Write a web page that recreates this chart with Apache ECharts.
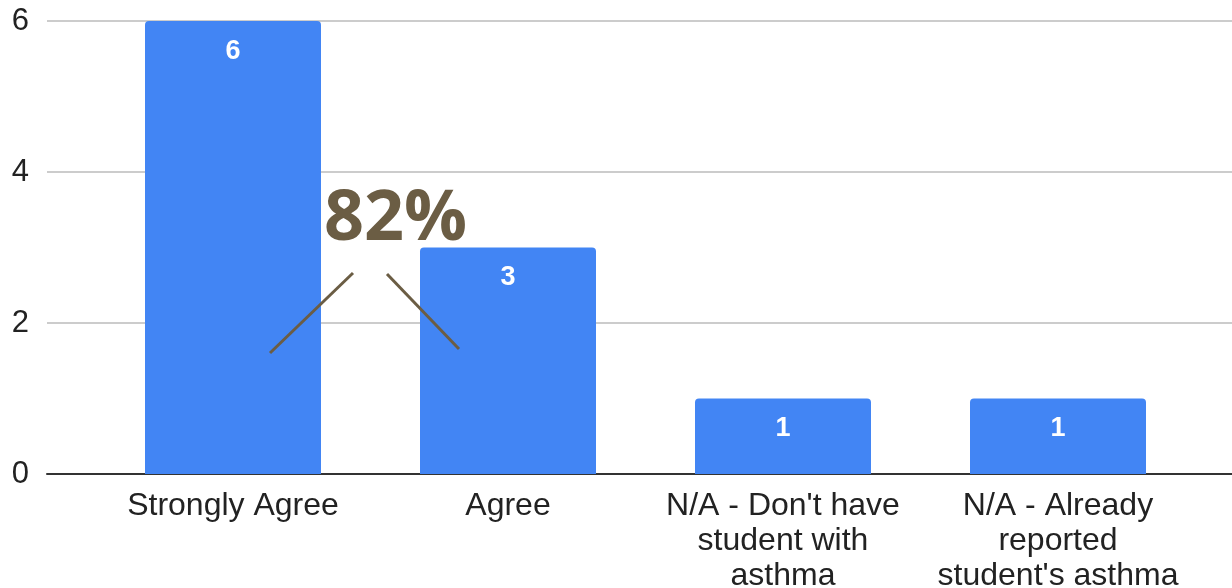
<!DOCTYPE html>
<html><head><meta charset="utf-8">
<style>html,body{margin:0;padding:0;background:#fff}#c{width:1232px;height:588px}</style>
<script src="https://cdn.jsdelivr.net/npm/echarts@6/dist/echarts.min.js"></script>
</head><body><div id="c"></div>
<script>
const categories = ["Strongly Agree", "Agree", "N/A - Don't have\nstudent with\nasthma", "N/A - Already\nreported\nstudent's asthma"];
const counts = [6, 3, 1, 1];
const yTicks = [0, 2, 4, 6];
const annotationText = "82%";

const chart = echarts.init(document.getElementById('c'), null, {renderer: 'canvas'});
const brown = '#6b5d44';
chart.setOption({
  animation: false,
  grid: [
    {left: 95.5, right: 36.5, top: 21, bottom: 114, outerBoundsMode: 'none', containLabel: false},
    {left: 47, right: 0, top: 21, bottom: 114, outerBoundsMode: 'none', containLabel: false}
  ],
  xAxis: [
    {type: 'category', gridIndex: 0, data: categories,
     axisLine: {show: false}, axisTick: {show: false},
     axisLabel: {color: '#222', fontFamily: 'Liberation Sans, Arial', fontSize: 32, lineHeight: 35, margin: 15, interval: 0}},
    {type: 'value', gridIndex: 1, min: 0, max: 1, show: true,
     axisLine: {show: true, onZero: false, lineStyle: {color: '#333', width: 2}},
     axisTick: {show: false}, axisLabel: {show: false}, splitLine: {show: false}}
  ],
  yAxis: [
    {type: 'value', gridIndex: 0, min: 0, max: 6, interval: 2, show: false, splitLine: {show: false}},
    {type: 'value', gridIndex: 1, min: yTicks[0], max: yTicks[yTicks.length-1], interval: 2,
     axisLine: {show: false}, axisTick: {show: false},
     axisLabel: {color: '#222', fontFamily: 'Liberation Sans, Arial', fontSize: 31, margin: 18},
     splitLine: {lineStyle: {color: '#cccccc', width: 2}}}
  ],
  series: [{
    type: 'bar', xAxisIndex: 0, yAxisIndex: 0, data: counts, barWidth: '64%',
    itemStyle: {color: '#4285f4', borderRadius: [4, 4, 0, 0]},
    label: {show: true, position: 'insideTop', distance: 17, color: '#fff', fontWeight: 'bold',
            fontFamily: 'Liberation Sans, Arial', fontSize: 27}
  }],
  graphic: [
    {type: 'text', left: 324, top: 185, z: 100,
     style: {text: annotationText, font: 'bold 70px "Open Sans"', fill: brown}},
    {type: 'line', z: 100, shape: {x1: 270, y1: 353, x2: 353, y2: 273}, style: {stroke: brown, lineWidth: 3}},
    {type: 'line', z: 100, shape: {x1: 387, y1: 274, x2: 459, y2: 349}, style: {stroke: brown, lineWidth: 3}}
  ]
});
</script></body></html>
